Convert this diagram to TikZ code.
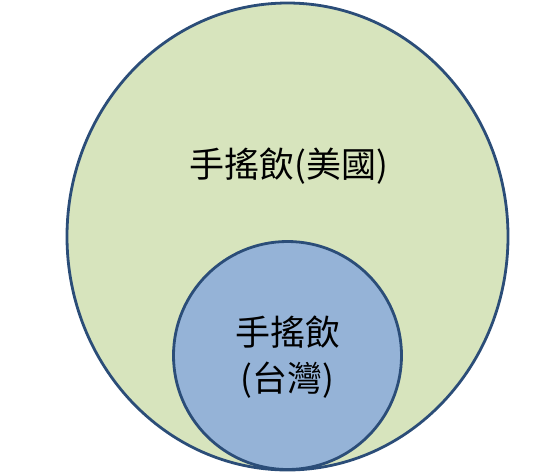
\documentclass[tikz,border=0pt]{standalone}
\usepackage{fontspec}
\newfontfamily\cjk{Noto Sans CJK TC}
\definecolor{edgeblue}{HTML}{2B4D78}
\definecolor{outerfill}{HTML}{D7E4BD}
\definecolor{innerfill}{HTML}{95B3D7}
\tikzset{
  setshape/.style={draw=edgeblue, line width=2.8pt},
  lbl/.style={font=\cjk\fontsize{35}{46}\selectfont, text=black, align=center, inner sep=0pt}
}
\begin{document}
\begin{tikzpicture}[x=1pt,y=-1pt]
\useasboundingbox (0,0) rectangle (536,475);
\fill[white] (0,0) rectangle (536,475);
\draw[setshape, fill=outerfill] (287.5,236.5) ellipse [x radius=220.5, y radius=233.5];
\draw[setshape, fill=innerfill] (287.5,355.5) circle [radius=114];
\node[lbl] (us) at (289,166) {手搖飲(美國)};
\node[lbl] (tw) at (287.5,357) {手搖飲\\(台灣)};
\end{tikzpicture}
\end{document}
